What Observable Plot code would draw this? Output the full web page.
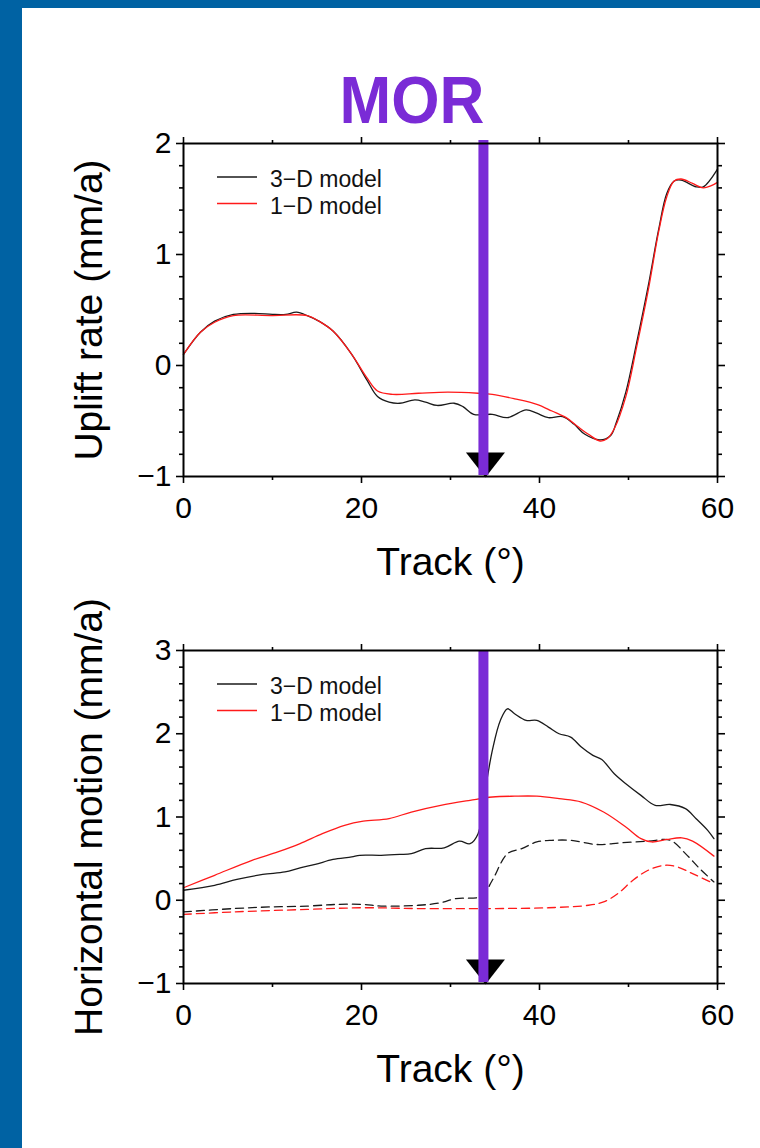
<!DOCTYPE html>
<html>
<head>
<meta charset="utf-8">
<script src="https://cdn.jsdelivr.net/npm/d3@7"></script>
<script src="https://cdn.jsdelivr.net/npm/@observablehq/plot@0.6"></script>
<style>
  html, body { margin: 0; padding: 0; }
  body { width: 760px; height: 1148px; overflow: hidden; }
  #page { position: relative; width: 760px; height: 1148px; background: #0062a3; overflow: hidden;
          font-family: "Liberation Sans", Arial, Helvetica, sans-serif; }
  #sheet { position: absolute; left: 22px; top: 8px; right: 0; bottom: 0; background: #fff; }
  .panel { position: absolute; left: 22px; }
  #title { position: absolute; left: 262px; width: 300px; top: 67px; text-align: center;
           font-size: 66px; line-height: 66px; font-weight: bold; color: #7a2bd6;
           transform: scaleX(0.94); }
  #legend { position: absolute; left: 0; top: 0; }
</style>
</head>
<body>
<div id="page">
  <div id="sheet"></div>
  <div id="p1" class="panel" style="top:100px"></div>
  <div id="p2" class="panel" style="top:607px"></div>
  <div id="title">MOR</div>
  <svg id="legend" width="760" height="1148"></svg>
</div>
<script>
// ---------- data ----------
const morTrack = 33.7;
const titleText = "MOR";
const seriesNames = ["3\u2212D model", "1\u2212D model"];
const xMajorTicks = [0, 20, 40, 60];
const xMinorTicks = [10, 30, 50];

// Panel 1: uplift rate (mm/a)
const upliftYMajor = [-1, 0, 1, 2];
const upliftYMinor = [-0.8, -0.6, -0.4, -0.2, 0.2, 0.4, 0.6, 0.8, 1.2, 1.4, 1.6, 1.8];
const upl3DTrack = [0,1.9,3.5,5.6,8,10,11.5,12.7,13.9,15.2,16.8,18.9,20.6,21.8,23.1,24.3,26.0,27.2,28.5,30.4,31.4,32.6,34.7,36.4,38.5,39.7,41.0,42.6,43.9,45.1,46.8,48.0,48.6,49.7,50.9,52.2,53.4,54.3,55.1,55.9,57.6,58.4,60];
const upl3D = [0.10,0.30,0.40,0.46,0.47,0.46,0.46,0.48,0.45,0.40,0.31,0.10,-0.13,-0.28,-0.33,-0.34,-0.31,-0.33,-0.36,-0.34,-0.37,-0.44,-0.44,-0.47,-0.40,-0.43,-0.47,-0.46,-0.53,-0.62,-0.67,-0.63,-0.52,-0.24,0.20,0.71,1.23,1.55,1.66,1.67,1.61,1.61,1.77];
const upl1DTrack = [0,1.9,3.5,5.6,9.8,13.9,15.2,16.8,18.9,20.6,21.8,23.5,26.4,29.7,33.1,34.7,37.2,39.7,41.4,43.0,44.3,45.5,46.8,47.6,48.4,49.7,50.9,52.2,53.4,54.3,55.1,55.9,57.2,58.4,59.3,60];
const upl1D = [0.10,0.30,0.39,0.45,0.45,0.45,0.40,0.31,0.10,-0.11,-0.23,-0.26,-0.25,-0.24,-0.25,-0.26,-0.30,-0.35,-0.41,-0.47,-0.55,-0.62,-0.68,-0.66,-0.57,-0.28,0.16,0.67,1.21,1.52,1.66,1.68,1.64,1.60,1.62,1.65];

// Panel 2: horizontal motion (mm/a)
const horYMajor = [-1, 0, 1, 2, 3];
const horYMinor = [-0.8,-0.6,-0.4,-0.2,0.2,0.4,0.6,0.8,1.2,1.4,1.6,1.8,2.2,2.4,2.6,2.8];
const hor3DTrack = [0,3.5,6.0,8.9,11.4,13.1,14.8,16.8,18.9,19.8,22.2,24.3,25.6,27.2,29.3,31.0,32.2,33.1,33.9,34.7,35.6,36.4,37.2,38.5,39.7,41.0,42.2,43.5,44.7,46.0,47.0,48.4,49.7,51.4,53.0,54.7,56.4,57.6,58.9,59.6];
const hor3D = [0.12,0.18,0.25,0.31,0.34,0.39,0.43,0.49,0.52,0.54,0.54,0.55,0.56,0.62,0.63,0.71,0.68,0.80,1.32,1.80,2.16,2.30,2.24,2.16,2.16,2.08,2.00,1.96,1.84,1.74,1.69,1.52,1.40,1.26,1.14,1.15,1.10,0.98,0.84,0.74];
const hor1DTrack = [0,3.5,7.7,10.6,13.1,15.6,18.1,20.2,23.1,25.6,28.9,32.2,34.7,37.2,39.7,42.2,44.7,47.2,49.7,51.4,52.6,54.3,56.0,57.2,59.6];
const hor1D = [0.15,0.30,0.48,0.58,0.68,0.80,0.90,0.95,0.98,1.06,1.14,1.20,1.24,1.25,1.25,1.22,1.18,1.06,0.88,0.74,0.70,0.73,0.75,0.71,0.53];
const hor3DDashTrack = [0,5.6,9.8,13.9,17.3,20.2,22.2,26.4,28.9,30.6,33.5,34.7,36.4,38.0,39.7,41.4,43.5,46.4,49.2,52.2,54.7,56.4,58.0,59.6];
const hor3DDash = [-0.14,-0.10,-0.08,-0.07,-0.05,-0.05,-0.07,-0.06,-0.03,0.02,0.05,0.24,0.56,0.62,0.70,0.72,0.72,0.67,0.69,0.71,0.72,0.56,0.38,0.22];
const hor1DDashTrack = [0,5.6,13.9,20.2,26.4,34.7,41.0,45.5,47.2,48.8,50.5,52.2,54.1,55.5,57.2,59.6];
const hor1DDash = [-0.17,-0.14,-0.11,-0.09,-0.10,-0.10,-0.09,-0.06,-0.02,0.08,0.24,0.36,0.42,0.40,0.32,0.20];

const xLabel = "Track (\u00b0)";
const yLabels = ["Uplift rate (mm/a)", "Horizontal motion (mm/a)"];

// ---------- helpers ----------
const rows = (xs, ys) => xs.map((t, i) => ({t, v: ys[i]}));
const fmt = d => d < 0 ? "\u2212" + Math.abs(d) : String(d);
const blank = () => "";
const purple = "#7a2bd6";
const FONT = "'Liberation Sans', Arial, Helvetica, sans-serif";

const downTriangle = {
  draw(ctx) {
    const w = 39, h = 25;
    ctx.moveTo(-w / 2, -h);
    ctx.lineTo(w / 2, -h);
    ctx.lineTo(0, 0);
    ctx.closePath();
  }
};

function panel({yDomain, yMajor, yMinor, yLabel, lines, ruleInsetTop}) {
  return Plot.plot({
    width: 738, height: 491,
    marginLeft: 161, marginRight: 43, marginTop: 43, marginBottom: 115,
    x: {domain: [0, 60], label: null},
    y: {domain: yDomain, label: null},
    style: {fontFamily: FONT, color: "black", background: "white", overflow: "visible"},
    marks: [
      // axes (ticks on all four sides, outward)
      Plot.axisX({ticks: xMajorTicks, anchor: "bottom", tickSize: 7, tickPadding: 13, fontSize: 30, tickFormat: fmt, label: null, strokeWidth: 1.6}),
      Plot.axisX({ticks: xMinorTicks, anchor: "bottom", tickSize: 4, tickFormat: blank, label: null, strokeWidth: 1.6}),
      Plot.axisX({ticks: xMajorTicks, anchor: "top", tickSize: 7, tickFormat: blank, label: null, strokeWidth: 1.6}),
      Plot.axisX({ticks: xMinorTicks, anchor: "top", tickSize: 4, tickFormat: blank, label: null, strokeWidth: 1.6}),
      Plot.axisY({ticks: yMajor, anchor: "left", tickSize: 7, tickPadding: 5, fontSize: 30, tickFormat: fmt, label: null, strokeWidth: 1.6}),
      Plot.axisY({ticks: yMinor, anchor: "left", tickSize: 4, tickFormat: blank, label: null, strokeWidth: 1.6}),
      Plot.axisY({ticks: yMajor, anchor: "right", tickSize: 7, tickFormat: blank, label: null, strokeWidth: 1.6}),
      Plot.axisY({ticks: yMinor, anchor: "right", tickSize: 4, tickFormat: blank, label: null, strokeWidth: 1.6}),
      // curves
      ...lines.map(L => Plot.line(rows(L.x, L.y), {
        x: "t", y: "v", stroke: L.color, strokeWidth: 1.3,
        strokeDasharray: L.dash ? "8,5" : null, curve: "catmull-rom"
      })),
      // MOR marker
      Plot.dot([morTrack], {x: d => d, frameAnchor: "bottom", symbol: downTriangle, fill: "black", stroke: null, dx: 2, dy: 1}),
      Plot.ruleX([morTrack], {x: d => d, stroke: purple, strokeWidth: 10, insetTop: ruleInsetTop, insetBottom: 1}),
      Plot.frame({stroke: "black", strokeWidth: 2}),
      // axis titles
      Plot.text([yLabel], {text: d => d, frameAnchor: "left", rotate: -90, dx: -93.5, fontSize: 39, textAnchor: "middle", lineAnchor: "middle"}),
      Plot.text([xLabel], {text: d => d, frameAnchor: "bottom", dy: 86.5, fontSize: 39, textAnchor: "middle", lineAnchor: "middle"})
    ]
  });
}

document.getElementById("p1").appendChild(panel({
  yDomain: [-1, 2], yMajor: upliftYMajor, yMinor: upliftYMinor, yLabel: yLabels[0], ruleInsetTop: -3,
  lines: [
    {x: upl3DTrack, y: upl3D, color: "#1a1a1a"},
    {x: upl1DTrack, y: upl1D, color: "#ff1a1a"}
  ]
}));
document.getElementById("p2").appendChild(panel({
  yDomain: [-1, 3], yMajor: horYMajor, yMinor: horYMinor, yLabel: yLabels[1], ruleInsetTop: 0,
  lines: [
    {x: hor3DDashTrack, y: hor3DDash, color: "#1a1a1a", dash: true},
    {x: hor1DDashTrack, y: hor1DDash, color: "#ff1a1a", dash: true},
    {x: hor3DTrack, y: hor3D, color: "#1a1a1a"},
    {x: hor1DTrack, y: hor1D, color: "#ff1a1a"}
  ]
}));
document.getElementById("title").textContent = titleText;

// legends (one per panel)
const legend = d3.select("#legend");
const legendColors = ["#1a1a1a", "#ff1a1a"];
[177, 684].forEach(y0 => {
  seriesNames.forEach((name, i) => {
    const y = y0 + i * 26.5;
    legend.append("line").attr("x1", 217).attr("x2", 257).attr("y1", y).attr("y2", y)
      .attr("stroke", legendColors[i]).attr("stroke-width", 1.3);
    legend.append("text").attr("x", 270).attr("y", y + 10).text(name)
      .attr("font-family", FONT).attr("font-size", 23).attr("fill", "#111");
  });
});
</script>
</body>
</html>
